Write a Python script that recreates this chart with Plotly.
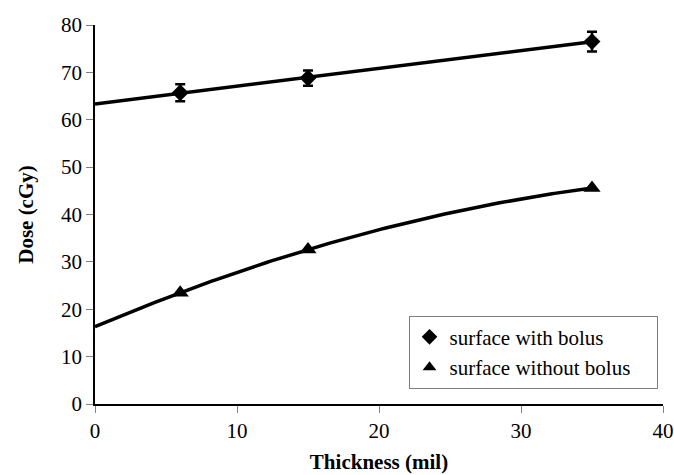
import numpy as np
import plotly.graph_objects as go

thickness = [6, 15, 35]
with_bolus = [65.7, 68.8, 76.5]
with_bolus_err = [1.8, 1.6, 2.1]
without_bolus = [23.5, 32.6, 45.6]
x_ticks = [0, 10, 20, 30, 40]
y_ticks = [0, 10, 20, 30, 40, 50, 60, 70, 80]
series_names = ["surface with bolus", "surface without bolus"]

FONT = "Liberation Serif, Times New Roman, serif"
PAD = "\u00a0" * 4

# Trendlines (linear for with-bolus, quadratic for without-bolus), backward forecast to 0
xt = np.linspace(0, 35, 200)
lin = np.polyfit(thickness, with_bolus, 1)
quad = np.polyfit(thickness, without_bolus, 2)

fig = go.Figure()
fig.add_trace(go.Scatter(x=xt, y=np.polyval(lin, xt), mode="lines",
                         line=dict(color="black", width=3.5), showlegend=False, hoverinfo="skip"))
fig.add_trace(go.Scatter(x=xt, y=np.polyval(quad, xt), mode="lines",
                         line=dict(color="black", width=3.5), showlegend=False, hoverinfo="skip"))
fig.add_trace(go.Scatter(x=thickness, y=with_bolus, mode="markers", name=series_names[0] + PAD,
                         marker=dict(symbol="diamond", size=13, color="black"),
                         error_y=dict(type="data", array=with_bolus_err, color="black",
                                      thickness=2.5, width=5)))
fig.add_trace(go.Scatter(x=thickness, y=without_bolus, mode="markers", name=series_names[1] + PAD,
                         marker=dict(symbol="triangle-up", size=15, color="black")))

fig.update_layout(
    width=674, height=475,
    margin=dict(l=94.5, r=11.3, t=25, b=70.7, autoexpand=False),
    paper_bgcolor="white", plot_bgcolor="white",
    font=dict(family=FONT, color="black", size=18),
    legend=dict(x=0.552, y=0.233, xanchor="left", yanchor="top",
                bordercolor="#808080", borderwidth=1, bgcolor="white",
                font=dict(family=FONT, size=21), itemsizing="constant",
                tracegroupgap=0),
    xaxis=dict(range=[0, 40], tickvals=x_ticks, ticks="outside", ticklen=7,
               tickcolor="#808080", showline=True, linecolor="black", linewidth=1.5,
               showgrid=False, zeroline=False,
               title=dict(text="<b>Thickness (mil)</b>", font=dict(size=21), standoff=12),
               tickfont=dict(size=21)),
    yaxis=dict(range=[0, 80], tickvals=y_ticks, ticks="outside", ticklen=7,
               tickcolor="#808080", showline=True, linecolor="black", linewidth=1.5,
               showgrid=False, zeroline=False,
               title=dict(text="<b>Dose (cGy)</b>", font=dict(size=21), standoff=22),
               tickfont=dict(size=21)),
)

fig.write_html("out.html")
